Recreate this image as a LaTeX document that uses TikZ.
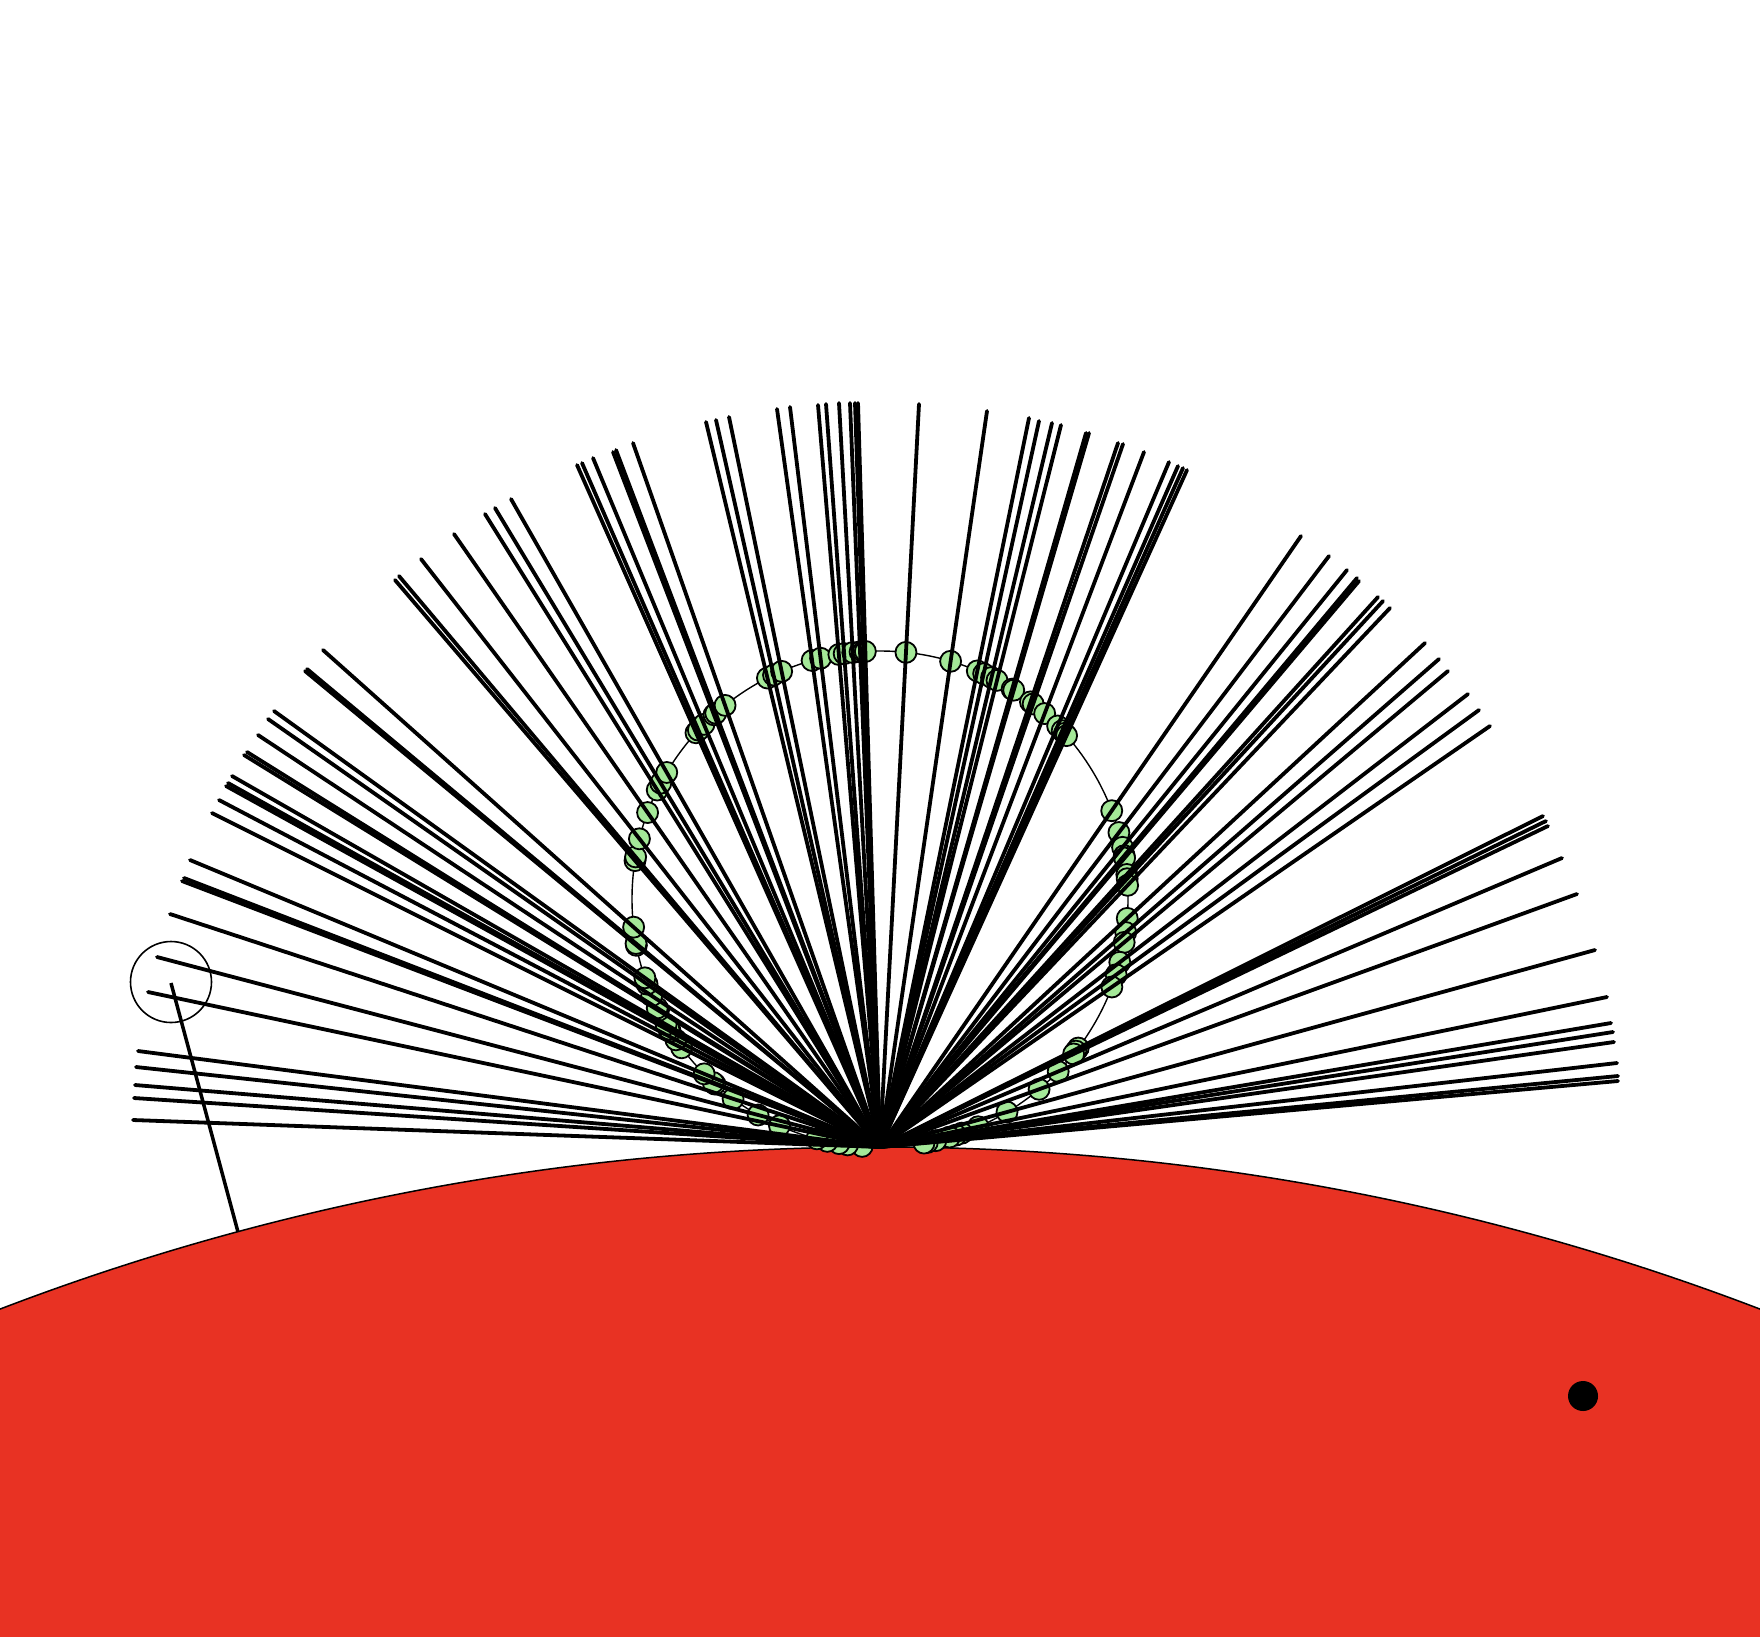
\documentclass[tikz,border=0pt]{standalone}
\usepackage{xcolor}
\usepackage{tikz}
\usetikzlibrary{calc}

\definecolor{planetred}{RGB}{232,50,35}
\definecolor{beadgreen}{RGB}{164,232,152}

\begin{document}
\begin{tikzpicture}[
  x=1pt, y=-1pt,
  % Shape styles
  planet/.style={draw=black, line width=1.5pt, fill=planetred},
  ray/.style={draw=black, line width=3.8pt, line cap=round},
  orbit/.style={draw=black, line width=1.4pt},
  bead/.style={draw=black, line width=1.8pt, fill=beadgreen},
  probe/.style={draw=black, line width=1.6pt},
  spot/.style={fill=black}
]

  \useasboundingbox (0,0) rectangle (1760,1636);
  \fill[white] (0,0) rectangle (1760,1636);

  % Planet
  \begin{scope}
    \clip (0,0) rectangle (1760,1636);
    \draw[planet] (880,3607) circle[radius=2460];
  \end{scope}
  \fill[spot] (1583,1396) circle[radius=15];

  % Hub and orbit
  \coordinate (hub) at (880,1147);
  \coordinate (orbitc) at (880,899);
  \draw[orbit] (orbitc) circle[radius=248];

  \def\raytips{133/1120, 134/1098, 135/1085, 136/1067, 138/1051, 148/992,
    157/957, 170/914, 182/881, 184/878, 190/860, 212/813, 219/800, 226/786,
    228/783, 232/776, 244/755, 247/752, 258/735, 268/719, 274/711, 305/671,
    307/669, 323/650, 395/580, 399/576, 421/559, 454/534, 485/514, 495/508,
    511/499, 577/465, 582/463, 593/458, 613/452, 616/450, 633/443, 706/422,
    716/420, 729/417, 777/409, 790/407, 818/405, 826/404, 839/403, 850/403,
    855/403, 858/403, 919/404, 987/411, 1029/418, 1039/421, 1052/423,
    1061/425, 1086/433, 1089/433, 1118/443, 1123/444, 1144/452, 1169/462,
    1178/466, 1183/468, 1187/470, 1301/536, 1329/556, 1347/570, 1357/578,
    1359/581, 1378/597, 1383/601, 1390/608, 1425/643, 1439/659, 1448/671,
    1468/694, 1479/710, 1490/726, 1543/816, 1546/821, 1548/826, 1562/858,
    1577/894, 1595/950, 1607/997, 1611/1023, 1613/1032, 1614/1042, 1617/1063,
    1618/1076, 1618/1081}

  % Beads where the rays cross the orbit
  \foreach \x/\y in \raytips {
    \pgfmathsetmacro{\ang}{2*atan2(1147-\y,\x-880)}
    \draw[bead] ($(orbitc)+({248*sin(\ang)},{248*cos(\ang)})$) circle[radius=10.5];
  }

  % Fan of rays
  \foreach \x/\y in \raytips {
    \coordinate (tip) at (\x,\y);
    \draw[ray] (hub) -- (tip);
  }

  % Probe
  \node[probe, circle, minimum size=81pt, inner sep=0pt] (ring) at (171,982) {};
  \coordinate (probetop) at (171,983);
  \coordinate (probefoot) at (238,1232);
  \draw[ray, line width=3.5pt, line cap=butt] (probetop) -- (probefoot);

\end{tikzpicture}
\end{document}
